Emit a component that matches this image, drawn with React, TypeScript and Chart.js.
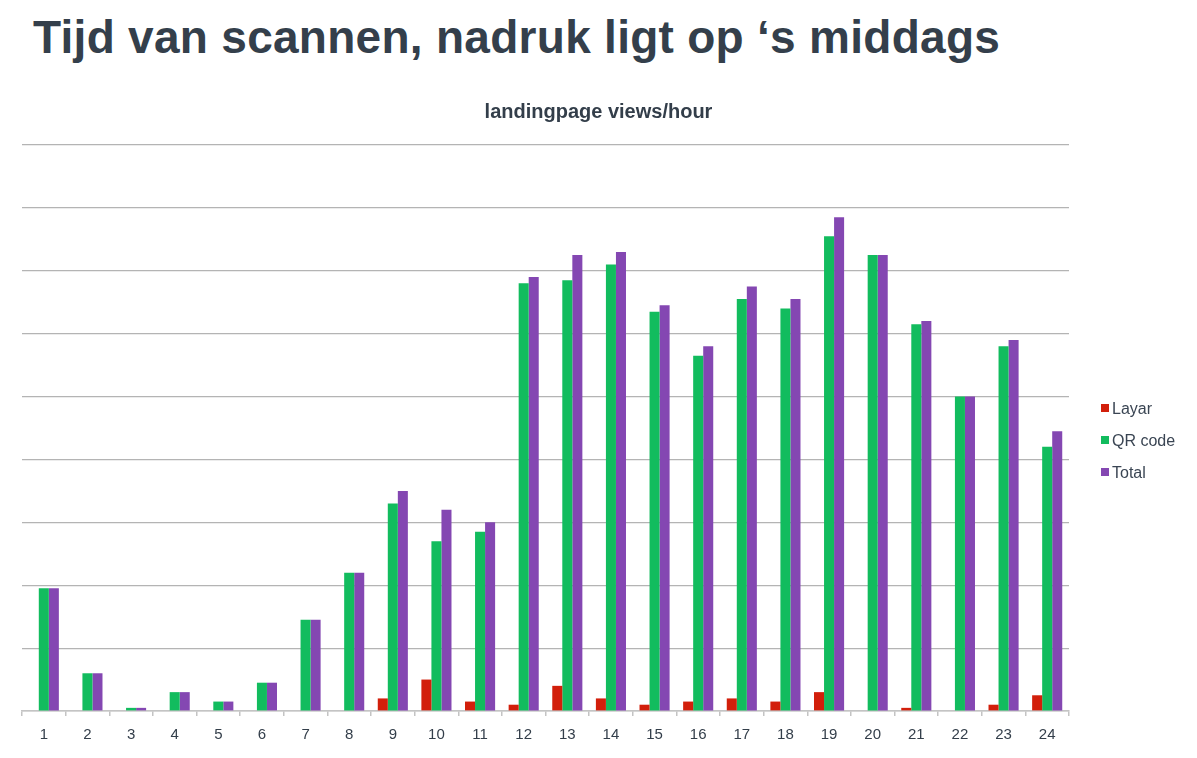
import React, { useEffect, useRef } from "react";
import { Chart, registerables } from "chart.js";

Chart.register(...registerables);

const hours = ["1","2","3","4","5","6","7","8","9","10","11","12","13","14","15","16","17","18","19","20","21","22","23","24"];
const layar = [0, 0, 0, 0, 0, 0, 0, 0, 2, 5, 1.5, 1, 4, 2, 1, 1.5, 2, 1.5, 3, 0, 0.5, 0, 1, 2.5];
const qrCode = [19.5, 6, 0.5, 3, 1.5, 4.5, 14.5, 22, 33, 27, 28.5, 68, 68.5, 71, 63.5, 56.5, 65.5, 64, 75.5, 72.5, 61.5, 50, 58, 42];
const total = [19.5, 6, 0.5, 3, 1.5, 4.5, 14.5, 22, 35, 32, 30, 69, 72.5, 73, 64.5, 58, 67.5, 65.5, 78.5, 72.5, 62, 50, 59, 44.5];

const seriesNames = ["Layar", "QR code", "Total"];
const seriesColors = ["#D21F0B", "#12BC5E", "#8447B2"];

const textColor = "#333E4A";

export default function App() {
  const canvasRef = useRef<HTMLCanvasElement | null>(null);

  useEffect(() => {
    if (!canvasRef.current) return;
    const chart = new Chart(canvasRef.current, {
      type: "bar",
      data: {
        labels: hours,
        datasets: [layar, qrCode, total].map((d, i) => ({
          label: seriesNames[i],
          data: d,
          backgroundColor: seriesColors[i],
          borderWidth: 0,
          barPercentage: 1,
          categoryPercentage: 0.69,
          yAxisID: "y",
        })),
      },
      options: {
        animation: false,
        responsive: false,
        maintainAspectRatio: false,
        layout: { padding: { left: 0, right: 0, top: 100, bottom: 4 } },
        plugins: {
          legend: { display: false },
          tooltip: { enabled: false },
          title: {
            display: true,
            text: "landingpage views/hour",
            color: textColor,
            font: { family: "Liberation Sans, Arial, sans-serif", size: 20, weight: "bold", lineHeight: 1.2 },
            padding: { top: 0, bottom: 21 },
          },
        },
        scales: {
          x: {
            offset: true,
            grid: {
              offset: true,
              drawOnChartArea: false,
              drawTicks: true,
              tickLength: 5,
              color: "#c4c4c4",
              lineWidth: 1.5,
            },
            border: { display: true, color: "#c4c4c4", width: 1.5 },
            ticks: {
              color: textColor,
              font: { family: "Liberation Sans, Arial, sans-serif", size: 15 },
              padding: 10,
              maxRotation: 0,
            },
          },
          y: {
            min: 0,
            max: 90,
            ticks: { display: false, stepSize: 10 },
            border: { display: false },
            grid: { drawTicks: false, color: "#b4b4b4", lineWidth: 1.2 },
            afterFit: (axis: any) => {
              axis.width = 22;
            },
          },
          yRight: {
            position: "right",
            min: 0,
            max: 90,
            ticks: { display: false },
            border: { display: false },
            grid: { display: false, drawTicks: false },
            afterFit: (axis: any) => {
              axis.width = 128;
            },
          },
        },
      },
    });
    return () => chart.destroy();
  }, []);

  return (
    <div style={{ position: "fixed", left: 0, top: 0, width: 1197, height: 758, background: "#fff", overflow: "hidden" }}>
      <div
        style={{
          position: "absolute",
          left: 33,
          top: 14,
          fontFamily: "Liberation Sans, Arial, sans-serif",
          fontWeight: "bold",
          fontSize: 46,
          lineHeight: "46px",
          letterSpacing: "0.28px",
          color: "#343F4B",
          whiteSpace: "nowrap",
        }}
      >
        Tijd van scannen, nadruk ligt op ‘s middags
      </div>
      <canvas ref={canvasRef} width={1197} height={758} style={{ position: "absolute", left: 0, top: 0 }} />
      <div
        style={{
          position: "absolute",
          left: 1101,
          top: 393,
          fontFamily: "Liberation Sans, Arial, sans-serif",
          fontSize: 16,
          color: "#3A4553",
        }}
      >
        {seriesNames.map((n, i) => (
          <div key={n} style={{ display: "flex", alignItems: "center", height: 32 }}>
            <span style={{ display: "inline-block", width: 8, height: 8, background: seriesColors[i], marginRight: 3, marginTop: -3 }} />
            <span>{n}</span>
          </div>
        ))}
      </div>
    </div>
  );
}
